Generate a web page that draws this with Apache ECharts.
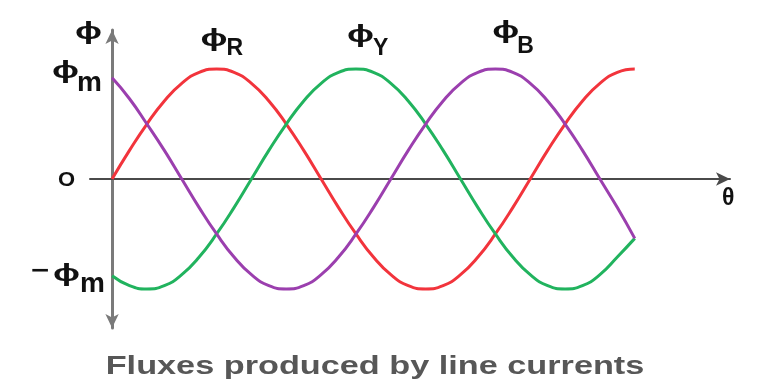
<!DOCTYPE html>
<html lang="en">
<head>
    <meta charset="UTF-8">
    <title>Fluxes produced by line currents</title>
    <script src="https://cdn.jsdelivr.net/npm/echarts@6/dist/echarts.min.js"></script>
    <style>
        html, body { margin: 0; padding: 0; background: #fff; }
        #main { width: 781px; height: 383px; }
    </style>
</head>
<body>
    <div id="main"></div>
    <script>
        // electrical angle in degrees, sampled every 15
        var angles = [0, 15, 30, 45, 60, 75, 90, 105, 120, 135, 150, 165, 180, 195, 210, 225, 240, 255, 270, 285, 300, 315, 330, 345, 360, 375, 390, 405, 420, 435, 450];
        // flux values (per unit of phi_m)
        var fluxR = [0, 0.26, 0.5, 0.71, 0.87, 0.97, 1, 0.97, 0.87, 0.71, 0.5, 0.26, 0, -0.26, -0.5, -0.71, -0.87, -0.97, -1, -0.97, -0.87, -0.71, -0.5, -0.26, 0, 0.26, 0.5, 0.71, 0.87, 0.97, 1];
        var fluxY = [-0.88, -0.97, -1, -0.97, -0.87, -0.71, -0.5, -0.26, 0, 0.26, 0.5, 0.71, 0.87, 0.97, 1, 0.97, 0.87, 0.71, 0.5, 0.26, 0, -0.26, -0.5, -0.71, -0.87, -0.97, -1, -0.97, -0.87, -0.71, -0.54];
        var fluxB = [0.92, 0.73, 0.5, 0.26, 0, -0.26, -0.5, -0.71, -0.87, -0.97, -1, -0.97, -0.87, -0.71, -0.5, -0.26, 0, 0.26, 0.5, 0.71, 0.87, 0.97, 1, 0.97, 0.87, 0.71, 0.5, 0.26, 0, -0.26, -0.54];
        var phases = ['R', 'Y', 'B'];
        var colors = ['#f2343c', '#21b35e', '#9b3fae'];
        var tickValues = [1, 0, -1];
        var tickLabels = ['ϕm', 'O', '−ϕm'];
        var titleText = 'Fluxes produced by line currents';

        var fluxes = [fluxR, fluxY, fluxB];
        var font = 'Liberation Sans, Arial, sans-serif';
        var ink = '#111';
        var PHI = 'ϕ';

        var series = fluxes.map(function (vals, i) {
            return {
                type: 'line',
                name: phases[i],
                smooth: true,
                showSymbol: false,
                lineStyle: { color: colors[i], width: 3 },
                itemStyle: { color: colors[i] },
                data: angles.map(function (a, k) { return [a, vals[k]]; })
            };
        });

        var chart = echarts.init(document.getElementById('main'));
        chart.setOption({
            animation: false,
            backgroundColor: '#fff',
            grid: { left: 90, right: 51, top: 30, bottom: 55 },
            xAxis: {
                type: 'value',
                min: -19,
                max: 532,
                splitLine: { show: false },
                axisTick: { show: false },
                axisLabel: { show: false },
                axisLine: {
                    onZero: true,
                    symbol: ['none', 'arrow'],
                    symbolSize: [10, 14],
                    lineStyle: { color: '#4a4a4a', width: 2 }
                }
            },
            yAxis: {
                type: 'value',
                min: -1.355,
                max: 1.355,
                splitLine: { show: false },
                axisTick: { show: false },
                axisLabel: { show: false },
                axisLine: {
                    onZero: true,
                    symbol: ['arrow', 'arrow'],
                    symbolSize: [10, 14],
                    lineStyle: { color: '#7a7a7a', width: 3 }
                }
            },
            series: series
        });

        // text pieces, placed from the axis scales
        function txt(str, size, x, y, sx) {
            return {
                type: 'text', x: x, y: y, scaleX: sx || 1, z: 10,
                style: { text: str, font: 'bold ' + size + 'px ' + font, fill: ink, textAlign: 'left', textVerticalAlign: 'middle' }
            };
        }
        function px(x, y) { return chart.convertToPixel({ xAxisIndex: 0, yAxisIndex: 0 }, [x, y]); }

        var g = [];
        // y tick labels
        tickValues.forEach(function (v, i) {
            var p = px(0, v);
            var lab = tickLabels[i];
            if (lab === 'O') {
                g.push(txt('O', 20, p[0] - 54, p[1] + 1, 1.1));
            } else if (lab.charAt(0) === '−') {
                g.push(txt('−', 24, p[0] - 81, p[1] - 18, 1.3));
                g.push(txt(PHI, 24, p[0] - 59, p[1] - 15, 1.5));
                g.push(txt('m', 28, p[0] - 32, p[1] - 5));
            } else {
                g.push(txt(PHI, 24, p[0] - 60, p[1] + 2, 1.5));
                g.push(txt('m', 28, p[0] - 35, p[1] + 14));
            }
        });
        // phase names over each peak: [phi dx, phi dy, sub dx, sub dy]
        var nameOffsets = [[-16, -30, 10, -20], [-9, -34, 17, -20], [-3, -38, 22, -22]];
        fluxes.forEach(function (vals, i) {
            var k = vals.indexOf(Math.max.apply(null, vals));
            var p = px(angles[k], vals[k]);
            var o = nameOffsets[i];
            g.push(txt(PHI, 24, p[0] + o[0], p[1] + o[1], 1.5));
            g.push(txt(phases[i], 23, p[0] + o[2], p[1] + o[3]));
        });
        // axis names
        var yTop = px(0, 1.355);
        g.push(txt(PHI, 24, yTop[0] - 37, yTop[1] + 2, 1.5));
        var xEnd = px(532, 0);
        g.push(txt('θ', 23, xEnd[0] - 8, xEnd[1] + 20, 1.0));
        // caption
        g.push({
            type: 'text', x: 375, y: 367, scaleX: 1.37,
            style: { text: titleText, font: 'bold 25px ' + font, fill: '#575757', textAlign: 'center', textVerticalAlign: 'middle' }
        });
        chart.setOption({ graphic: g });
    </script>
</body>
</html>
